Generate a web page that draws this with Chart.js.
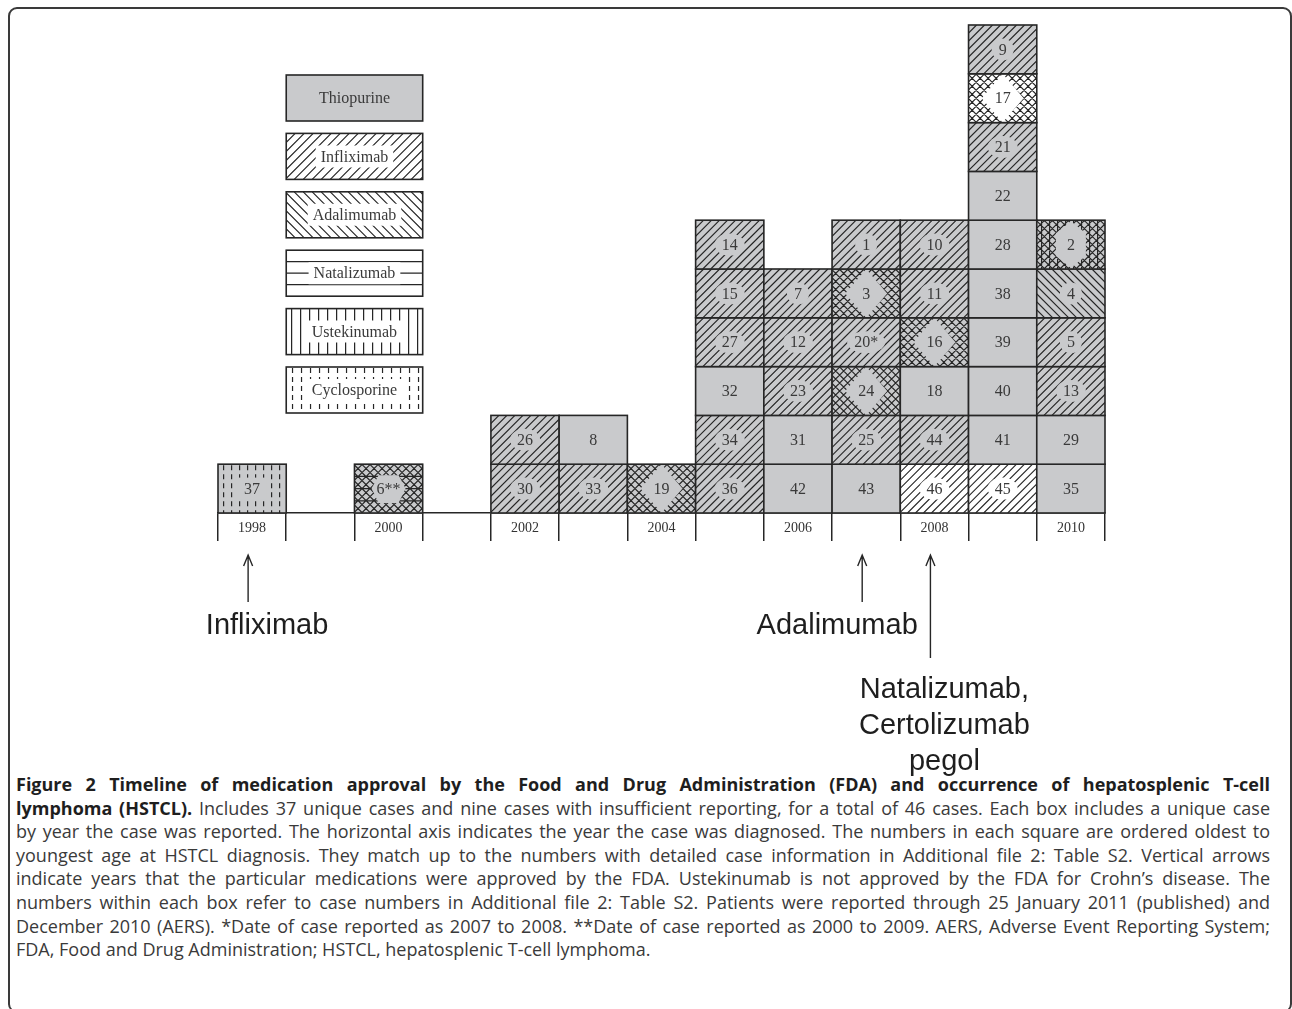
<!DOCTYPE html>
<html>
<head>
<meta charset="utf-8">
<script src="https://cdn.jsdelivr.net/npm/chart.js@4.4.1/dist/chart.umd.min.js"></script>
<style>
html, body { margin: 0; padding: 0; background: #fff; width: 1292px; height: 1009px; overflow: hidden; }
#frame { position: absolute; left: 8px; top: 7px; width: 1284px; height: 1006px; border: 2px solid #3a3a3a; border-radius: 9px; box-sizing: border-box; }
#wrap { position: absolute; left: 0; top: 0; width: 1292px; height: 780px; }
#caption { position: absolute; left: 16px; top: 773px; width: 1254px; font-family: 'Open Sans', sans-serif; font-size: 18px; line-height: 23.6px; color: #3a3a3a; }
#caption div { text-align: justify; text-align-last: justify; white-space: nowrap; }
#caption div.last { text-align-last: left; }
#caption b { color: #1e1e1e; }
</style>
</head>
<body>
<div id="frame"></div>
<div id="caption">
<div><b>Figure 2 Timeline of medication approval by the Food and Drug Administration (FDA) and occurrence of hepatosplenic T-cell</b></div>
<div><b>lymphoma (HSTCL).</b> Includes 37 unique cases and nine cases with insufficient reporting, for a total of 46 cases. Each box includes a unique case</div>
<div>by year the case was reported. The horizontal axis indicates the year the case was diagnosed. The numbers in each square are ordered oldest to</div>
<div>youngest age at HSTCL diagnosis. They match up to the numbers with detailed case information in Additional file 2: Table S2. Vertical arrows</div>
<div>indicate years that the particular medications were approved by the FDA. Ustekinumab is not approved by the FDA for Crohn’s disease. The</div>
<div>numbers within each box refer to case numbers in Additional file 2: Table S2. Patients were reported through 25 January 2011 (published) and</div>
<div>December 2010 (AERS). *Date of case reported as 2007 to 2008. **Date of case reported as 2000 to 2009. AERS, Adverse Event Reporting System;</div>
<div class="last">FDA, Food and Drug Administration; HSTCL, hepatosplenic T-cell lymphoma.</div>
</div>
<div id="wrap"><canvas id="chartviewport"></canvas></div>
<script>
// years on the axis (every other one is labelled)
const years = ['1998', '1999', '2000', '2001', '2002', '2003', '2004', '2005', '2006', '2007', '2008', '2009', '2010'];
// one entry per case, bottom box first in each year
const caseYear = ['1998', '2000', '2002', '2002', '2003', '2003', '2004',
    '2005', '2005', '2005', '2005', '2005', '2005',
    '2006', '2006', '2006', '2006', '2006',
    '2007', '2007', '2007', '2007', '2007', '2007',
    '2008', '2008', '2008', '2008', '2008', '2008',
    '2009', '2009', '2009', '2009', '2009', '2009', '2009', '2009', '2009', '2009',
    '2010', '2010', '2010', '2010', '2010', '2010'];
const caseNo = ['37', '6**', '30', '26', '33', '8', '19',
    '36', '34', '32', '27', '15', '14',
    '42', '31', '23', '12', '7',
    '43', '25', '24', '20*', '3', '1',
    '46', '44', '18', '16', '11', '10',
    '45', '41', '40', '39', '38', '28', '22', '21', '17', '9',
    '35', '29', '13', '5', '4', '2'];
// T thiopurine, I infliximab, A adalimumab, N natalizumab, U ustekinumab, C cyclosporine
const caseDrug = ['TC', 'TIAN', 'TI', 'TI', 'TI', 'T', 'TIA',
    'TI', 'TI', 'T', 'TI', 'TI', 'TI',
    'T', 'T', 'TI', 'TI', 'TI',
    'T', 'TI', 'TIA', 'TI', 'TIA', 'TI',
    'I', 'TI', 'T', 'TIA', 'TI', 'TI',
    'I', 'T', 'T', 'T', 'T', 'T', 'T', 'TI', 'IA', 'TI',
    'T', 'T', 'TI', 'TI', 'TA', 'TIAU'];
// legend
const legendNames = ['Thiopurine', 'Infliximab', 'Adalimumab', 'Natalizumab', 'Ustekinumab', 'Cyclosporine'];
const legendCodes = ['T', 'I', 'A', 'N', 'U', 'C'];
// FDA approvals (arrows)
const approvalYear = ['1998', '2007', '2008'];
const approvalText = [['Infliximab'], ['Adalimumab'], ['Natalizumab,', 'Certolizumab', 'pegol']];

const GREY = '#c9cacc';
const INK = '#262626';

// stack the cases into rows per year
const counts = years.map(() => 0);
const rowOf = caseYear.map(y => counts[years.indexOf(y)]++);
const nRows = Math.max(...counts);
const datasets = [];
for (let r = 0; r < nRows; r++) {
    const data = years.map(() => null);
    const idx = years.map(() => -1);
    caseYear.forEach((y, i) => {
        if (rowOf[i] === r) { const xi = years.indexOf(y); data[xi] = 1; idx[xi] = i; }
    });
    datasets.push({
        label: 'row ' + r,
        data: data,
        caseIndex: idx,
        backgroundColor: idx.map(i => i < 0 ? 'rgba(0,0,0,0)' : (caseDrug[i].includes('T') ? GREY : '#ffffff')),
        borderWidth: 0,
        barPercentage: 1,
        categoryPercentage: 1
    });
}

function drawLines(ctx, L, T, W, H, drugs, step) {
    ctx.save();
    ctx.beginPath(); ctx.rect(L, T, W, H); ctx.clip();
    ctx.strokeStyle = INK; ctx.lineWidth = 1.2;
    ctx.beginPath();
    if (drugs.includes('I')) {
        for (let t = -H; t < W + H; t += step) { ctx.moveTo(L + t, T + H); ctx.lineTo(L + t + H, T); }
    }
    if (drugs.includes('A')) {
        for (let t = -H; t < W + H; t += step) { ctx.moveTo(L + t, T); ctx.lineTo(L + t + H, T + H); }
    }
    if (drugs.includes('N')) {
        for (let k = 1; k < 4; k++) { ctx.moveTo(L, T + k * H / 4); ctx.lineTo(L + W, T + k * H / 4); }
    }
    if (drugs.includes('U')) {
        for (let xx = L + step * 0.6; xx < L + W; xx += step) { ctx.moveTo(xx, T); ctx.lineTo(xx, T + H); }
    }
    ctx.stroke();
    if (drugs.includes('C')) {
        ctx.setLineDash([5, 4]);
        ctx.beginPath();
        for (let xx = L + step * 0.7; xx < L + W - 2; xx += step) { ctx.moveTo(xx, T + 1); ctx.lineTo(xx, T + H); }
        ctx.stroke();
    }
    ctx.restore();
}

function clearCentre(ctx, L, T, W, H, drugs, tw, fill, isLegend) {
    const cx = L + W / 2, cy = T + H / 2;
    ctx.save();
    ctx.fillStyle = fill;
    ctx.beginPath();
    if (isLegend) {
        ctx.rect(cx - tw / 2 - 5, cy - 11, tw + 10, 22);
    } else if (drugs.includes('I') && drugs.includes('A') && drugs.includes('N')) {
        ctx.moveTo(cx - 17, cy); ctx.lineTo(cx - 10, T + 11); ctx.lineTo(cx + 10, T + 11);
        ctx.lineTo(cx + 17, cy); ctx.lineTo(cx + 10, T + H - 10); ctx.lineTo(cx - 10, T + H - 10);
        ctx.closePath();
    } else if (drugs.includes('I') && drugs.includes('A') && drugs.includes('U')) {
        ctx.moveTo(cx, T + 1); ctx.lineTo(cx + 15, T + 13); ctx.lineTo(cx + 15, T + H - 13);
        ctx.lineTo(cx, T + H - 1); ctx.lineTo(cx - 15, T + H - 13); ctx.lineTo(cx - 15, T + 13);
        ctx.closePath();
    } else if (drugs.includes('I') && drugs.includes('A')) {
        ctx.moveTo(cx, T); ctx.lineTo(cx + 21, cy); ctx.lineTo(cx, T + H); ctx.lineTo(cx - 21, cy);
        ctx.closePath();
    } else if (drugs.includes('C')) {
        ctx.rect(cx - tw / 2 - 6, cy - 11, tw + 12, 22);
    } else if (/[IANU]/.test(drugs)) {
        ctx.ellipse(cx, cy, tw / 2 + 7, 11, 0, 0, Math.PI * 2);
    }
    ctx.fill();
    ctx.restore();
}

function drawBox(ctx, L, T, W, H, drugs, text, font, step, isLegend) {
    const fill = drugs.includes('T') ? GREY : '#ffffff';
    ctx.save();
    ctx.fillStyle = fill;
    ctx.fillRect(L, T, W, H);
    ctx.font = font;
    const tw = ctx.measureText(text).width;
    drawLines(ctx, L, T, W, H, drugs, step);
    clearCentre(ctx, L, T, W, H, drugs, tw, fill, isLegend);
    ctx.strokeStyle = INK; ctx.lineWidth = 1.6;
    ctx.strokeRect(L, T, W, H);
    ctx.fillStyle = '#3a3a3a';
    ctx.textAlign = 'center'; ctx.textBaseline = 'middle';
    ctx.fillText(text, L + W / 2, T + H / 2 + 1);
    ctx.restore();
}

const boxPlugin = {
    id: 'boxes',
    afterDatasetsDraw(chart) {
        const ctx = chart.ctx;
        chart.data.datasets.forEach((ds, di) => {
            const meta = chart.getDatasetMeta(di);
            meta.data.forEach((bar, xi) => {
                const ci = ds.caseIndex[xi];
                if (ci < 0) return;
                const p = bar.getProps(['x', 'y', 'base', 'width'], true);
                const L = p.x - p.width / 2, T = Math.min(p.y, p.base), H = Math.abs(p.base - p.y);
                drawBox(ctx, L, T, p.width, H, caseDrug[ci], caseNo[ci], '16px "Liberation Serif"', 8, false);
            });
        });
    },
    afterDraw(chart) {
        const ctx = chart.ctx;
        const xs = chart.scales.x;
        const colW = xs.getPixelForValue(1) - xs.getPixelForValue(0);
        // legend boxes
        const lx = xs.getPixelForValue(1) - colW / 2;
        legendNames.forEach((name, k) => {
            const top = 75 + k * 58.4;
            drawBox(ctx, lx, top, colW * 2, 46, legendCodes[k], name, '16px "Liberation Serif"', 9, true);
        });
        // approval arrows
        const arrowLen = [47, 47, 103];
        const textDy = [24, 24, 32];
        const textDx = [19, -25, 14];
        approvalYear.forEach((y, k) => {
            const ax = xs.getPixelForValue(years.indexOf(y)) - 4;
            const ay = 555;
            ctx.save();
            ctx.strokeStyle = INK; ctx.lineWidth = 1.4;
            ctx.beginPath();
            ctx.moveTo(ax, ay); ctx.lineTo(ax, ay + arrowLen[k]);
            ctx.moveTo(ax - 4.5, ay + 11); ctx.lineTo(ax, ay); ctx.lineTo(ax + 4.5, ay + 11);
            ctx.stroke();
            ctx.fillStyle = '#1e1e1e';
            ctx.font = '29px "Liberation Sans"';
            ctx.textAlign = 'center'; ctx.textBaseline = 'middle';
            approvalText[k].forEach((line, j) => {
                ctx.fillText(line, ax + textDx[k], ay + arrowLen[k] + textDy[k] + j * 36);
            });
            ctx.restore();
        });
    }
};

new Chart(document.getElementById('chartviewport'), {
    type: 'bar',
    data: { labels: years, datasets: datasets },
    options: {
        responsive: true,
        maintainAspectRatio: false,
        animation: false,
        layout: { padding: { left: 218, right: 187, top: 25, bottom: 239 } },
        plugins: { legend: { display: false }, tooltip: { enabled: false } },
        scales: {
            x: {
                stacked: true,
                grid: { offset: true, drawOnChartArea: false, drawTicks: true, tickLength: 28, color: INK, lineWidth: 1.5 },
                border: { display: true, color: INK, width: 1.6 },
                ticks: {
                    autoSkip: false, maxRotation: 0, padding: -21, color: '#333',
                    font: { family: 'Liberation Serif', size: 14 },
                    callback: (v, i) => (i % 2 === 0 ? years[i] : '')
                },
                afterFit: s => { s.height = 28; }
            },
            y: { stacked: true, display: false, min: 0, max: 10 }
        }
    },
    plugins: [boxPlugin]
});
</script>
</body>
</html>
